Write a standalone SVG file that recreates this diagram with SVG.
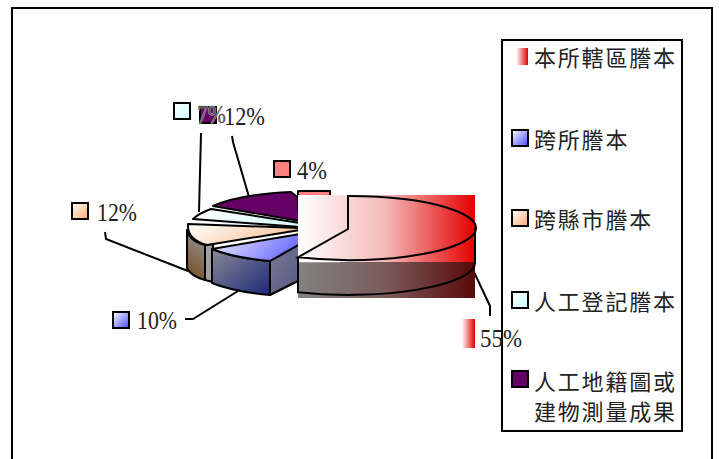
<svg xmlns="http://www.w3.org/2000/svg" width="719" height="459" viewBox="0 0 719 459">
<defs>
<style>
.ln{fill:none;stroke:#000;stroke-width:2}
.ol{stroke:#000;stroke-width:2;stroke-linejoin:round}
.pct{font-family:"Liberation Serif","Times New Roman",serif;font-size:26px;fill:#222}
.lg{font-family:"Noto Sans CJK TC","Noto Sans CJK SC",sans-serif;font-size:22px;letter-spacing:1.8px;fill:#222}
.sw{stroke:#000;stroke-width:2}
</style>
<linearGradient id="gRedTop" x1="0" y1="0" x2="1" y2="0"><stop offset="0" stop-color="#ffffff"/><stop offset="0.5" stop-color="#f4b8b8"/><stop offset="1" stop-color="#e40000"/></linearGradient>
<linearGradient id="gRedSide" x1="0" y1="0" x2="1" y2="0"><stop offset="0" stop-color="#828282"/><stop offset="0.5" stop-color="#7a5a5a"/><stop offset="1" stop-color="#5a0808"/></linearGradient>
<linearGradient id="gPeachTop" x1="0" y1="0" x2="1" y2="0.4"><stop offset="0" stop-color="#ffffff"/><stop offset="1" stop-color="#f6c49a"/></linearGradient>
<linearGradient id="gPeachSide" x1="0.3" y1="0" x2="0" y2="1"><stop offset="0" stop-color="#8e8e8e"/><stop offset="1" stop-color="#7a4818"/></linearGradient>
<linearGradient id="gCyanTop" x1="0" y1="0" x2="1" y2="0"><stop offset="0" stop-color="#ffffff"/><stop offset="1" stop-color="#d4fafa"/></linearGradient>
<linearGradient id="gBlueTop" x1="0" y1="0" x2="1" y2="0.3"><stop offset="0" stop-color="#f4f4ff"/><stop offset="1" stop-color="#7070ff"/></linearGradient>
<linearGradient id="gBlueSide" x1="0" y1="0" x2="1" y2="1"><stop offset="0" stop-color="#8a8a96"/><stop offset="1" stop-color="#1c2878"/></linearGradient>
<linearGradient id="gBlueCut" x1="0" y1="0" x2="1" y2="1"><stop offset="0" stop-color="#7a7a90"/><stop offset="1" stop-color="#555585"/></linearGradient>
<linearGradient id="gSwRed" x1="0" y1="0" x2="1" y2="0"><stop offset="0" stop-color="#ffffff"/><stop offset="0.3" stop-color="#ffffff"/><stop offset="1" stop-color="#e00000"/></linearGradient>
<linearGradient id="gSwBlue" x1="0" y1="0" x2="1" y2="1"><stop offset="0" stop-color="#ffffff"/><stop offset="1" stop-color="#4848ff"/></linearGradient>
<linearGradient id="gSwPeach" x1="0" y1="0" x2="1" y2="1"><stop offset="0" stop-color="#ffffff"/><stop offset="1" stop-color="#ffa870"/></linearGradient>
<linearGradient id="gSwCyan" x1="0" y1="0" x2="1" y2="1"><stop offset="0" stop-color="#ffffff"/><stop offset="1" stop-color="#c8ffff"/></linearGradient>
</defs>
<rect width="719" height="459" fill="#fff"/>
<path class="ln" d="M12,470 L12,8 L712,8 L712,470"/>

<g id="connectors">
<path class="ln" d="M105,232 L106,239 L188,271"/>
<path class="ln" d="M185,319 L193,319 L238,291"/>
<path class="ln" d="M201,133 L199,212"/>
<path class="ln" d="M232,136 L233,142 L249,197"/>
<path class="ln" d="M473,270 L490,306 L490,316"/>
</g>

<g id="slice-purple"><path class="ol" fill="#660066" d="M213,206 A113,30 0 0,1 291,192 L300,199 L300,221 Z"/></g>
<g id="slice-cyan"><path class="ol" fill="url(#gCyanTop)" d="M193,219 A113,30 0 0,1 211,209 L300,223 L300,227 Z"/></g>
<g id="slice-peach">
<path class="ol" fill="url(#gPeachSide)" d="M187,230 L187,268 C190,274 197,278 205,280 L205,245 C195,242 188,237 187,230 Z"/>
<path class="ol" fill="#a0a0a4" d="M205,245 L213,244 L213,282 L205,280 Z"/>
<path class="ol" fill="url(#gPeachTop)" d="M188,224 L300,228 L300,230 L207,245 C196,242 187,236 188,224 Z"/>
</g>
<g id="slice-blue">
<path class="ol" fill="url(#gBlueCut)" d="M270,261 L270,295 L300,280 L300,244 Z"/>
<path class="ol" fill="url(#gBlueSide)" d="M212,249 L212,283 A113,30 0 0,0 270,295 L270,261 A113,30 0 0,1 212,249 Z"/>
<path class="ol" fill="url(#gBlueTop)" d="M212,249 L300,234 L300,244 L270,261 A113,30 0 0,1 212,249 Z"/>
</g>
<g id="slice-red4"><rect class="ol" x="298" y="191" width="32" height="20" fill="#ff8080"/></g>
<g id="slice-red55">
<rect x="298" y="195" width="177" height="67" fill="url(#gRedTop)"/>
<rect x="298" y="262" width="177" height="36" fill="url(#gRedSide)"/>
<line x1="298" y1="261.5" x2="340" y2="261.5" stroke="#fff" stroke-width="1.5"/>
<path class="ln" d="M298,258 L298,292.3 A127,32 0 0,0 475,263 L475,228"/>
<path class="ln" d="M348,229 L348,196 A127,32 0 1,1 298,257.3 Z"/>
</g>

<g id="label-peach"><rect class="sw" x="72" y="203" width="16" height="16" fill="url(#gSwPeach)"/><text class="pct" x="97" y="221" textLength="40" lengthAdjust="spacingAndGlyphs">12%</text></g>
<g id="label-blue"><rect class="sw" x="113" y="312" width="16" height="16" fill="url(#gSwBlue)"/><text class="pct" x="137" y="329" textLength="40" lengthAdjust="spacingAndGlyphs">10%</text></g>
<g id="label-purple"><rect class="sw" x="200" y="107" width="16" height="16" fill="#660066"/><text class="pct" x="224" y="125" textLength="41" lengthAdjust="spacingAndGlyphs">12%</text></g>
<g id="label-cyan"><rect class="sw" x="174" y="103" width="16" height="16" fill="url(#gSwCyan)"/><text class="pct" x="197" y="123" textLength="29" lengthAdjust="spacingAndGlyphs" style="fill:#555;stroke:#c8c8c8;stroke-width:0.9;paint-order:stroke">7%</text></g>
<g id="label-red4"><rect class="sw" x="274" y="161" width="16" height="16" fill="#ff8080"/><text class="pct" x="297" y="179" textLength="30" lengthAdjust="spacingAndGlyphs">4%</text></g>

<g id="legend">
<rect x="502" y="40" width="180" height="391" fill="#fff" stroke="#000" stroke-width="2"/>
<rect x="511" y="48" width="17" height="17" fill="url(#gSwRed)"/>
<text class="lg" x="534" y="66">本所轄區謄本</text>
<rect class="sw" x="512" y="130" width="16" height="16" fill="url(#gSwBlue)"/>
<text class="lg" x="534" y="148">跨所謄本</text>
<rect class="sw" x="512" y="210" width="16" height="16" fill="url(#gSwPeach)"/>
<text class="lg" x="534" y="228">跨縣市謄本</text>
<rect class="sw" x="512" y="292" width="16" height="16" fill="url(#gSwCyan)"/>
<text class="lg" x="534" y="310">人工登記謄本</text>
<rect class="sw" x="512" y="371" width="16" height="16" fill="#660066"/>
<text class="lg" x="534" y="390">人工地籍圖或</text>
<text class="lg" x="534" y="420">建物測量成果</text>
</g>

<g id="label-red55"><rect x="456" y="319" width="19" height="29" fill="url(#gSwRed)"/><text class="pct" x="480" y="347" textLength="42" lengthAdjust="spacingAndGlyphs">55%</text></g>
</svg>
